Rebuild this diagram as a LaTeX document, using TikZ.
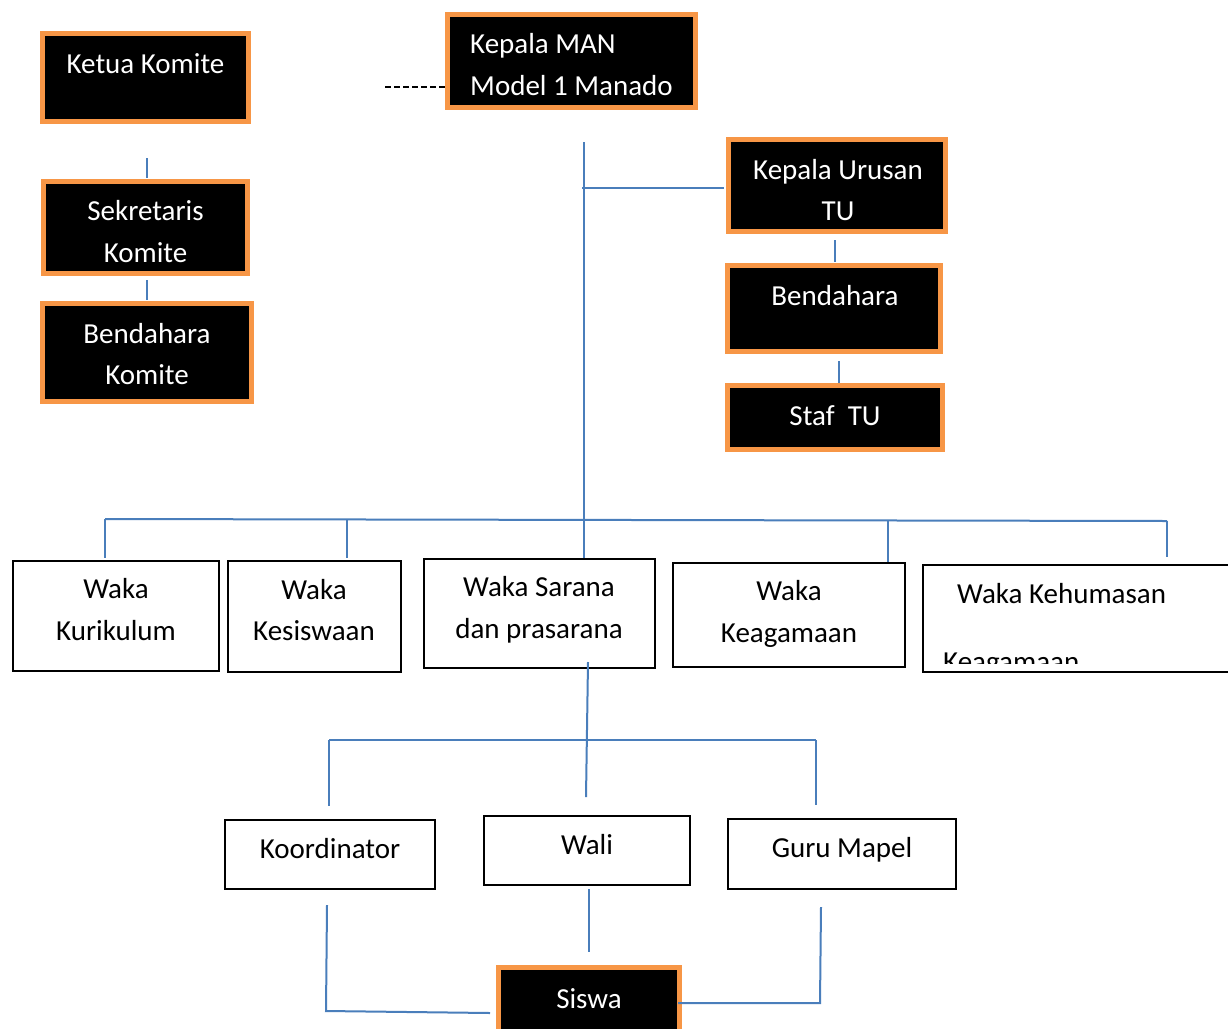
\documentclass[tikz,border=0pt]{standalone}
\usepackage{fontspec}
\setmainfont{Carlito}
\definecolor{org}{HTML}{F79646}
\definecolor{blu}{HTML}{4A7EBB}
\tikzset{
  obox/.style={draw=org, line width=5pt, fill=black, inner sep=0pt},
  wbox/.style={draw=black, line width=1.8pt, fill=white, inner sep=0pt},
  wt/.style={text=white, font=\fontsize{29}{35}\selectfont, inner sep=0pt, anchor=base},
  bt/.style={text=black, font=\fontsize{29}{35}\selectfont, inner sep=0pt, anchor=base},
  bl/.style={draw=blu, line width=2pt},
}
\begin{document}
\begin{tikzpicture}[x=1pt, y=-1pt]
\useasboundingbox[fill=white] (0,0) rectangle (1228,1028);

% ---------- orange/black boxes ----------
\node[obox, minimum width=206pt, minimum height=88pt] (ketua) at (145.5,77.5) {};
\node[obox, minimum width=204pt, minimum height=92pt] (sekr) at (145.5,227.5) {};
\node[obox, minimum width=209pt, minimum height=98pt] (bendk) at (147,352.5) {};
\node[obox, minimum width=248pt, minimum height=93pt] (kepala) at (571.5,61) {};
\node[obox, minimum width=217pt, minimum height=92pt] (kaur) at (837,185.5) {};
\node[obox, minimum width=213pt, minimum height=86pt] (bend) at (834,308.5) {};
\node[obox, minimum width=215pt, minimum height=64pt] (staf) at (835,417.5) {};
\node[obox, minimum width=181pt, minimum height=70pt] (siswa) at (589,1002.5) {};

% ---------- white boxes ----------
\node[wbox, minimum width=206pt, minimum height=110pt] (kur) at (116,616) {};
\node[wbox, minimum width=173pt, minimum height=111pt] (kes) at (314.5,616.5) {};
\node[wbox, minimum width=231pt, minimum height=109pt] (sar) at (539.5,613.5) {};
\node[wbox, minimum width=232pt, minimum height=104pt] (kea) at (789,615) {};
\node[wbox, minimum width=316pt, minimum height=107pt] (hum) at (1081,618.5) {};
\node[wbox, minimum width=210pt, minimum height=69pt] (koor) at (330,854.5) {};
\node[wbox, minimum width=206pt, minimum height=69pt] (wali) at (587,850.5) {};
\node[wbox, minimum width=228pt, minimum height=70pt] (guru) at (842,854) {};

% ---------- texts ----------
\node[wt] (t1) at (145.5,73) {Ketua Komite};
\node[wt] (t2a) at (145.5,220) {Sekretaris};
\node[wt] (t2b) at (145.5,262) {Komite};
\node[wt] (t3a) at (147,343) {Bendahara};
\node[wt] (t3b) at (147,384) {Komite};
\node[wt, anchor=base west] (t4a) at (470,53) {Kepala MAN};
\node[wt, anchor=base west] (t4b) at (470,95) {Model 1 Manado};
\node[wt] (t5a) at (838,179) {Kepala Urusan};
\node[wt] (t5b) at (838,220) {TU};
\node[wt] (t6) at (835,305) {Bendahara};
\node[wt] (t7) at (835,425) {Staf\ \ TU};
\node[wt] (t8) at (589,1008) {Siswa};

\node[bt] (u1a) at (116,598) {Waka};
\node[bt] (u1b) at (116,640) {Kurikulum};
\node[bt] (u2a) at (314,599) {Waka};
\node[bt] (u2b) at (314,640) {Kesiswaan};
\node[bt] (u3a) at (539,596) {Waka Sarana};
\node[bt] (u3b) at (539,638) {dan prasarana};
\node[bt] (u4a) at (789,600) {Waka};
\node[bt] (u4b) at (789,642) {Keagamaan};
\node[bt, anchor=base west] (u5a) at (957,603) {Waka Kehumasan};
\begin{scope}
  \clip (924,566) rectangle (1240,663);
  \node[bt, anchor=base west] (u5b) at (943,671) {Keagamaan};
\end{scope}
\node[bt] (u6) at (330,858) {Koordinator};
\node[bt] (u7) at (587,854) {Wali};
\node[bt] (u8) at (842,857) {Guru Mapel};

% ---------- connector end points ----------
\coordinate (c1a) at (147,158);  \coordinate (c1b) at (147,178);
\coordinate (c2a) at (147,280);  \coordinate (c2b) at (147,300);
\coordinate (dsh) at (385,87);
\coordinate (mtop) at (584,142); \coordinate (mbot) at (584,558);
\coordinate (tuA) at (582,188);  \coordinate (tuB) at (724,188);
\coordinate (b1a) at (835,240);  \coordinate (b1b) at (835,262);
\coordinate (b2a) at (839,361);  \coordinate (b2b) at (839,383);
\coordinate (busL) at (105,519); \coordinate (busR) at (1167,521);
\coordinate (d1) at (105,558);   \coordinate (d2t) at (347,519); \coordinate (d2) at (347,558);
\coordinate (d4t) at (888,520);  \coordinate (d4) at (888,562);
\coordinate (d5) at (1167,557);
\coordinate (sA) at (588,662);   \coordinate (sB) at (586,797);
\coordinate (bus2L) at (329,740); \coordinate (bus2R) at (816,740);
\coordinate (e1) at (329,806);   \coordinate (e3) at (816,805);
\coordinate (k1) at (327,905);   \coordinate (k2) at (326,1011); \coordinate (k3) at (490,1013);
\coordinate (w1) at (589,889);   \coordinate (w2) at (589,952);
\coordinate (g1) at (821,907);   \coordinate (g2) at (820,1003); \coordinate (g3) at (678,1003);

% ---------- connectors ----------
\draw[bl] (c1a) -- (c1b);
\draw[bl] (c2a) -- (c2b);
\draw[black, line width=1.6pt, dash pattern=on 6pt off 3pt] (dsh) -- (dsh -| kepala.west);
\draw[bl] (mtop) -- (mbot);
\draw[bl] (tuA) -- (tuB);
\draw[bl] (b1a) -- (b1b);
\draw[bl] (b2a) -- (b2b);
\draw[bl] (busL) -- (busR);
\draw[bl] (busL) -- (d1);
\draw[bl] (d2t) -- (d2);
\draw[bl] (d4t) -- (d4);
\draw[bl] (busR) -- (d5);
\draw[bl] (sA) -- (sB);
\draw[bl] (bus2L) -- (bus2R);
\draw[bl] (bus2L) -- (e1);
\draw[bl] (bus2R) -- (e3);
\draw[bl] (k1) -- (k2) -- (k3);
\draw[bl] (w1) -- (w2);
\draw[bl] (g1) -- (g2) -- (g3);
\end{tikzpicture}
\end{document}
